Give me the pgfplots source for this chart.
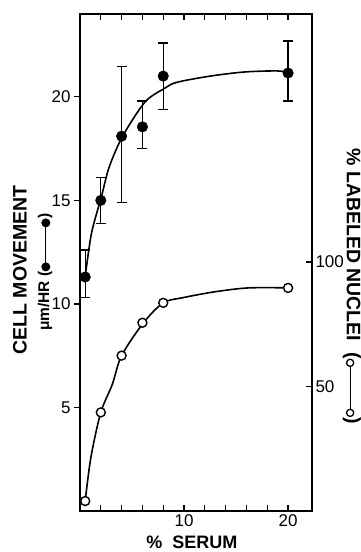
\documentclass[border=0pt]{standalone}
\usepackage{fontspec}
\setmainfont{Liberation Sans}
\usepackage{pgfplots}
\pgfplotsset{compat=1.18}
\usetikzlibrary{calc}

\newsavebox\legF
\newsavebox\legO

\begin{document}
\sbox\legF{\tikz[baseline=-0.6ex]{\draw[line width=1.2pt] (0,0)--(44pt,0); \fill (0,0) circle (4.5pt); \fill (44pt,0) circle (4.5pt);}}%
\sbox\legO{\tikz[baseline=-0.6ex]{\draw[line width=1.2pt] (3.5pt,0)--(46.5pt,0); \draw[line width=1.3pt,fill=white] (0,0) circle (3.6pt); \draw[line width=1.3pt,fill=white] (50pt,0) circle (3.6pt);}}%
\begin{tikzpicture}
\pgfplotsset{
  common/.style={
    scale only axis, width=232pt, height=497pt,
    xmin=0, xmax=22.3,
    axis line style={line width=1.5pt},
    tick style={line width=1.2pt, black},
    major tick length=6pt,
    /pgf/number format/assume math mode=true,
    ticklabel style={font=\fontsize{17}{17}\selectfont},
  }
}
% main axis: box, x ticks, filled data (cell movement)
\begin{axis}[common, name=A,
  ymin=0, ymax=24,
  tick align=inside,
  xtick={2,4,...,20},
  xticklabels={,,,,10,,,,,20},
  xtick pos=both, xticklabel pos=lower,
  ytick=\empty,
]
\addplot[smooth, line width=1.6pt, black] coordinates {
  (0.5,11.3) (1.1,13.4) (2.07,15.2) (2.8,16.6) (4.1,18.1) (6.25,19.75)
  (8.1,20.4) (9.3,20.7) (12.5,21.0) (15.8,21.2) (19,21.25) (20.2,21.15)
};
\addplot[only marks, mark=*, mark size=5.3pt, black,
  error bars/.cd, y dir=both, y explicit,
  error bar style={line width=1.2pt},
  error mark options={rotate=90, mark size=5pt, line width=1.2pt}]
coordinates {
  (0.5,11.3) += (0,1.3) -= (0,1.0)
  (2,15.0) += (0,1.1) -= (0,1.1)
  (4,18.1) += (0,3.35) -= (0,3.2)
  (6,18.55) += (0,1.25) -= (0,1.05)
  (8,21.0) += (0,1.6) -= (0,1.6)
  (20,21.15) += (0,1.55) -= (0,1.35)
};
\end{axis}
% left y ticks (outside)
\begin{axis}[common, name=B,
  ymin=0, ymax=24,
  hide x axis,
  axis y line*=left,
  tick align=outside,
  ytick={5,10,15,20},
]
\end{axis}
% right axis: labeled nuclei (open circles)
\begin{axis}[common, name=C,
  ymin=0, ymax=199.6,
  hide x axis,
  axis y line*=right,
  tick align=inside,
  ytick={50,100},
]
\addplot[smooth, line width=1.6pt, black] coordinates {
  (0.5,4) (1.05,21.6) (2,39.6) (3.1,50.8) (4,62.4) (6.1,75.6)
  (8,83.6) (9.8,85.6) (12.9,88) (16.2,89.6) (20.3,89.6)
};
\addplot[only marks, mark=*, mark size=4.5pt, line width=1.4pt, black,
  mark options={fill=white}]
coordinates {
  (0.5,4) (2,39.6) (4,62.4) (6,75.6) (8,83.6) (20,89.6)
};
\end{axis}
% labels
\node[rotate=90, font=\bfseries\fontsize{19.5}{19.5}\selectfont] at ($(A.south west)+(-60pt,241pt)$) {CELL MOVEMENT};
\node[rotate=90, font=\bfseries\fontsize{15.5}{15.5}\selectfont] at ($(A.south west)+(-35pt,239pt)$) {μm/HR (\usebox\legF)};
\node[rotate=-90, font=\bfseries\fontsize{19.5}{19.5}\selectfont] at ($(A.south west)+(272pt,225pt)$) {\% LABELED NUCLEI\ \ (\usebox\legO)};
\node[anchor=base, font=\bfseries\fontsize{18}{18}\selectfont] at ($(A.south west)+(112pt,-37pt)$) {\%\ \ SERUM};
\pgfresetboundingbox
\path[use as bounding box] ($(A.south west)+(-80pt,-41pt)$) rectangle ($(A.south west)+(281pt,511pt)$);
\end{tikzpicture}
\end{document}
